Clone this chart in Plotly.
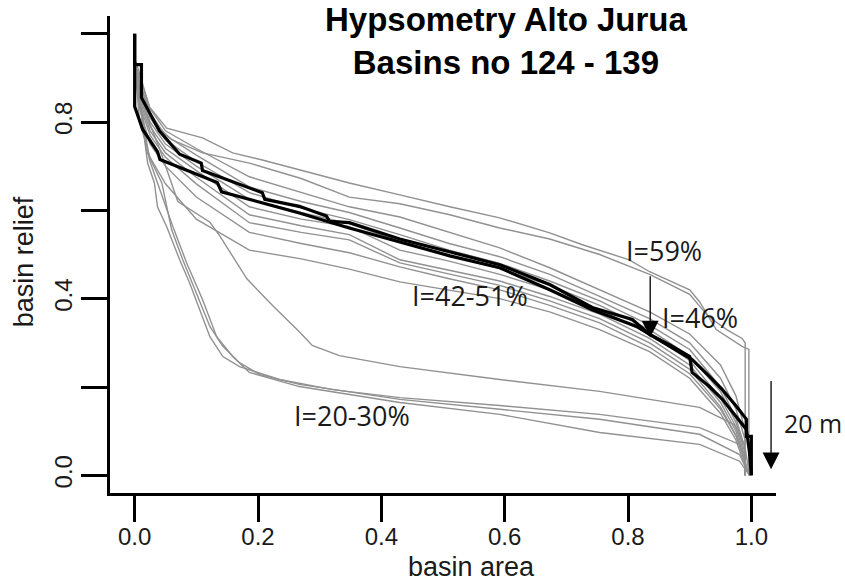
import plotly.graph_objects as go

# ---------------- data ----------------
# black highlighted basins
black_a_x = [0, 0, 0.011, 0.011, 0.04, 0.073, 0.108, 0.11, 0.207, 0.211, 0.267, 0.311, 0.316, 0.348,
             0.43, 0.511, 0.592, 0.673, 0.742, 0.807, 0.835, 0.867, 0.9, 0.904, 0.932, 0.953, 0.976,
             0.992, 0.997, 1.0]
black_a_y = [1.0, 0.93, 0.93, 0.855, 0.78, 0.727, 0.707, 0.69, 0.64, 0.625, 0.609, 0.587, 0.575, 0.572,
             0.535, 0.506, 0.477, 0.432, 0.380, 0.353, 0.319, 0.296, 0.269, 0.233, 0.201, 0.172, 0.133,
             0.104, 0.052, 0.0]
black_b_x = [0, 0, 0.013, 0.037, 0.041, 0.085, 0.134, 0.141, 0.267, 0.348, 0.43, 0.511, 0.592, 0.673,
             0.742, 0.814, 0.835, 0.872, 0.904, 0.932, 0.953, 0.976, 0.992, 0.992, 1.0, 1.0]
black_b_y = [1.0, 0.835, 0.783, 0.733, 0.715, 0.69, 0.663, 0.642, 0.594, 0.56, 0.529, 0.497, 0.47, 0.42,
             0.375, 0.337, 0.319, 0.289, 0.262, 0.224, 0.194, 0.156, 0.127, 0.088, 0.088, 0.0]

# upper grey basins (I=59%)
g59_x = [0, 0.003, 0.024, 0.052, 0.11, 0.159, 0.207, 0.267, 0.348, 0.43, 0.511, 0.592, 0.673, 0.726,
         0.802, 0.835, 0.9, 0.916, 0.943, 0.985, 0.996, 0.996]
g59_y = [0.94, 0.933, 0.834, 0.786, 0.764, 0.73, 0.714, 0.692, 0.662, 0.635, 0.608, 0.583, 0.549, 0.522,
         0.488, 0.461, 0.42, 0.393, 0.33, 0.292, 0.285, 0.0]
g2_x = [0, 0.005, 0.03, 0.06, 0.11, 0.186, 0.27, 0.348, 0.43, 0.511, 0.592, 0.673, 0.754, 0.835, 0.9,
        0.93, 0.96, 0.985, 0.99, 0.99]
g2_y = [0.935, 0.9, 0.8, 0.76, 0.73, 0.707, 0.672, 0.63, 0.615, 0.59, 0.56, 0.535, 0.5, 0.455, 0.41,
        0.36, 0.33, 0.31, 0.3, 0.0]

# middle cluster (I=42-51%)
cluster_x = [0, 0.008, 0.025, 0.05, 0.1, 0.186, 0.27, 0.348, 0.43, 0.51, 0.592, 0.673, 0.754, 0.835,
             0.9, 0.95, 0.975, 0.99, 0.99]
c1_y = [0.935, 0.90, 0.83, 0.78, 0.74, 0.676, 0.64, 0.608, 0.585, 0.55, 0.515, 0.47, 0.42, 0.37, 0.32, 0.25, 0.18, 0.1, 0]
c2_y = [0.935, 0.89, 0.82, 0.77, 0.725, 0.653, 0.62, 0.595, 0.56, 0.525, 0.495, 0.455, 0.405, 0.355, 0.30, 0.22, 0.15, 0.08, 0]
c3_y = [0.935, 0.88, 0.81, 0.76, 0.71, 0.64, 0.605, 0.579, 0.545, 0.51, 0.48, 0.44, 0.395, 0.34, 0.285, 0.2, 0.13, 0.06, 0]
c4_y = [0.935, 0.87, 0.80, 0.75, 0.70, 0.625, 0.595, 0.57, 0.529, 0.498, 0.468, 0.43, 0.385, 0.33, 0.27, 0.19, 0.12, 0.05, 0]
c5_y = [0.935, 0.86, 0.79, 0.74, 0.69, 0.608, 0.58, 0.563, 0.51, 0.485, 0.455, 0.42, 0.375, 0.32, 0.26, 0.175, 0.11, 0.04, 0]
c6_y = [0.935, 0.85, 0.78, 0.73, 0.675, 0.59, 0.565, 0.545, 0.488, 0.465, 0.44, 0.405, 0.365, 0.31, 0.25, 0.165, 0.1, 0.03, 0]
c7_y = [0.935, 0.84, 0.77, 0.72, 0.66, 0.572, 0.55, 0.533, 0.481, 0.455, 0.43, 0.395, 0.355, 0.30, 0.24, 0.155, 0.09, 0.03, 0]
c8_y = [0.935, 0.83, 0.75, 0.70, 0.63, 0.55, 0.525, 0.504, 0.472, 0.445, 0.42, 0.385, 0.345, 0.29, 0.23, 0.15, 0.09, 0.03, 0]
c9_y = [0.935, 0.80, 0.72, 0.66, 0.58, 0.51, 0.49, 0.467, 0.438, 0.42, 0.40, 0.37, 0.33, 0.28, 0.22, 0.14, 0.08, 0.02, 0]

# lower basins (I=20-30%)
l1_x = [0, 0.016, 0.041, 0.07, 0.122, 0.138, 0.182, 0.224, 0.267, 0.288, 0.332, 0.43, 0.592, 0.754, 0.916, 0.972, 0.989, 0.997]
l1_y = [0.935, 0.827, 0.737, 0.62, 0.573, 0.542, 0.445, 0.384, 0.325, 0.294, 0.271, 0.246, 0.217, 0.19, 0.154, 0.115, 0.07, 0.0]
l2_x = [0, 0.016, 0.021, 0.032, 0.037, 0.052, 0.073, 0.089, 0.105, 0.122, 0.143, 0.17, 0.235, 0.321, 0.43, 0.592, 0.754, 0.916, 0.981, 0.997]
l2_y = [0.935, 0.759, 0.707, 0.662, 0.608, 0.563, 0.488, 0.436, 0.375, 0.314, 0.269, 0.246, 0.217, 0.194, 0.176, 0.158, 0.138, 0.108, 0.07, 0.0]
l3_x = [0, 0.019, 0.044, 0.06, 0.078, 0.1, 0.122, 0.143, 0.17, 0.203, 0.267, 0.43, 0.592, 0.754, 0.916, 0.981, 0.997]
l3_y = [0.935, 0.735, 0.662, 0.556, 0.488, 0.414, 0.337, 0.292, 0.255, 0.228, 0.206, 0.172, 0.149, 0.127, 0.093, 0.047, 0]
l4_x = [0, 0.024, 0.062, 0.084, 0.11, 0.133, 0.159, 0.186, 0.267, 0.43, 0.592, 0.754, 0.916, 0.981, 0.997]
l4_y = [0.935, 0.714, 0.563, 0.482, 0.398, 0.314, 0.269, 0.233, 0.201, 0.165, 0.138, 0.097, 0.07, 0.032, 0]

x_ticks = [0.0, 0.2, 0.4, 0.6, 0.8, 1.0]
x_tick_labels = ["0.0", "0.2", "0.4", "0.6", "0.8", "1.0"]
y_ticks = [0.0, 0.2, 0.4, 0.6, 0.8, 1.0]
y_tick_labels = ["0.0", "", "0.4", "", "0.8", ""]

title_lines = ["Hypsometry Alto Jurua", "Basins no 124 - 139"]
x_title = "basin area"
y_title = "basin relief"

# labels inside the plot (data coordinates)
labels = ["I=59%", "I=46%", "I=42-51%", "I=20-30%"]
label_x = [0.859, 0.916, 0.543, 0.353]
label_y = [0.508, 0.357, 0.407, 0.136]
# label to the right of the plot (paper coordinates)
scale_label = "20 m"
scale_label_pos = (1.056, 0.147)

# arrows: (tip x, tip y, tail x, tail y)
arrow_59 = (0.836, 0.312, 0.836, 0.454)
arrow_20m = (1.032, 0.0136, 1.032, 0.217)

# ---------------- figure ----------------
GREY = "#919191"
fig = go.Figure()

grey_series = [(g59_x, g59_y), (g2_x, g2_y)]
for cy in [c1_y, c2_y, c3_y, c4_y, c5_y, c6_y, c7_y, c8_y, c9_y]:
    grey_series.append((cluster_x, cy))
grey_series += [(l1_x, l1_y), (l2_x, l2_y), (l3_x, l3_y), (l4_x, l4_y)]

for gx, gy in grey_series:
    fig.add_trace(go.Scatter(x=gx, y=gy, mode="lines",
                             line=dict(color=GREY, width=1.4), showlegend=False,
                             hoverinfo="skip"))
for bx, by in [(black_a_x, black_a_y), (black_b_x, black_b_y)]:
    fig.add_trace(go.Scatter(x=bx, y=by, mode="lines",
                             line=dict(color="black", width=3.2), showlegend=False,
                             hoverinfo="skip"))

SANS = "Liberation Sans, Arial, sans-serif"
AX_FONT = dict(family=SANS, size=24, color="#1a1a1a")
fig.update_xaxes(range=[-0.04, 1.04], tickvals=x_ticks, ticktext=x_tick_labels,
                 ticks="outside", ticklen=26, tickwidth=2.5, tickcolor="black",
                 showline=True, linecolor="black", linewidth=2.5, mirror=False,
                 showgrid=False, zeroline=False, tickfont=AX_FONT, ticklabelstandoff=-6)
fig.update_yaxes(range=[-0.04, 1.04], tickvals=y_ticks, ticktext=y_tick_labels,
                 ticks="outside", ticklen=26, tickwidth=2.5, tickcolor="black",
                 showline=True, linecolor="black", linewidth=2.5, mirror=False,
                 showgrid=False, zeroline=False, tickfont=AX_FONT, tickangle=-90,
                 ticklabelstandoff=0)

annotations = []
annotations.append(dict(text="<b>" + "<br>".join(title_lines) + "</b>", xref="paper", yref="paper",
                        x=0.596, y=0.948, xanchor="center", yanchor="middle", showarrow=False,
                        font=dict(family=SANS, size=33, color="black")))
annotations.append(dict(text=x_title, xref="paper", yref="paper", x=0.5435, y=-0.155,
                        xanchor="center", yanchor="middle", showarrow=False,
                        font=dict(family=SANS, size=27, color="#1a1a1a")))
annotations.append(dict(text=y_title, xref="paper", yref="paper", x=-0.129, y=0.484,
                        xanchor="center", yanchor="middle", showarrow=False, textangle=-90,
                        font=dict(family=SANS, size=27, color="#1a1a1a")))
LBL_FONT = dict(family="Open Sans, sans-serif", size=27, color="#1a1a1a")
for t, lx, ly in zip(labels, label_x, label_y):
    annotations.append(dict(text=t, x=lx, y=ly, xref="x", yref="y", showarrow=False,
                            xanchor="center", yanchor="middle", font=LBL_FONT))
annotations.append(dict(text=scale_label, x=scale_label_pos[0], y=scale_label_pos[1],
                        xref="paper", yref="paper", showarrow=False,
                        xanchor="center", yanchor="middle",
                        font=dict(family="Open Sans, sans-serif", size=25, color="#1a1a1a")))
for (tx, ty, sx, sy) in [arrow_59, arrow_20m]:
    annotations.append(dict(text="", x=tx, y=ty, ax=sx, ay=sy, xref="x", yref="y",
                            axref="x", ayref="y", showarrow=True, arrowhead=2,
                            arrowsize=2.6, arrowwidth=1.3, arrowcolor="black"))

fig.update_layout(width=845, height=581, margin=dict(l=110, r=69, t=16, b=88),
                  plot_bgcolor="white", paper_bgcolor="white", annotations=annotations,
                  showlegend=False)

# remove the default 8px page margin so the figure fills the window exactly
fig.write_html("out.html", config={"displayModeBar": False},
               post_script="document.body.style.margin='0';document.body.style.overflow='hidden';")
